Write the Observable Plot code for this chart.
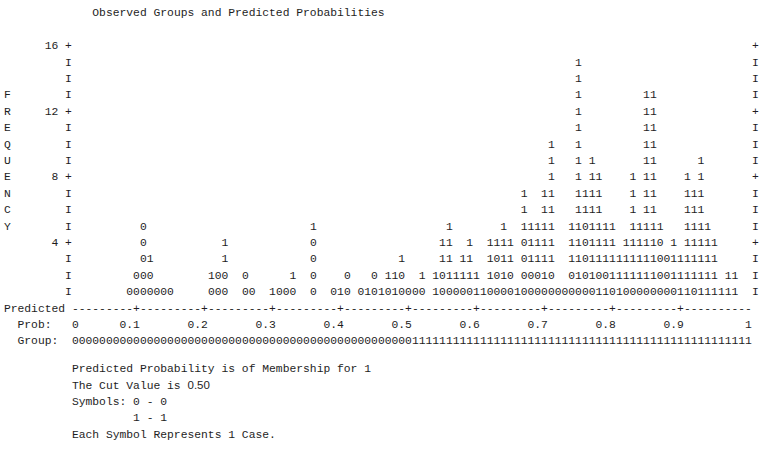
<!DOCTYPE html>
<html><head><meta charset="utf-8">
<script src="https://cdn.jsdelivr.net/npm/d3@7"></script>
<script src="https://cdn.jsdelivr.net/npm/@observablehq/plot@0.6"></script>
<style>html,body{margin:0;padding:0;background:#fff;} svg{display:block}</style>
</head><body><div id="chart"></div>
<script>
// ---- data ----
const titleText = "Observed Groups and Predicted Probabilities";
const axisWord = "FREQUENCY";
const freqTicks = [4, 8, 12, 16];
const maxRow = 16;
const probTicks = [0, 0.1, 0.2, 0.3, 0.4, 0.5, 0.6, 0.7, 0.8, 0.9, 1];
const cutValue = 0.5;
// predicted probability bins (in %), and the observed-group symbols stacked in each bin (bottom to top)
const probPct = [8,9,10,11,12,13,14,20,21,22,25,26,29,30,31,32,35,38,39,40,42,43,44,45,46,47,48,49,50,51,53,54,55,56,57,58,59,60,61,62,63,64,65,66,67,68,69,70,71,72,73,74,75,76,77,78,79,80,81,82,83,84,85,86,87,88,89,90,91,92,93,94,95,96,97];
const binStacks = ["0","00","00000","001","0","0","0","01","00","0011","00","0","1","0","0","01","00001","0","1","00","0","1","00","1","01","11","001","0","0","01","11","0011","01111","01","011","0111","11","1","0111","0001","01111","0011","1","0000111","00111","00111","0111111","0011111111","0","0","00111","011111111111111","0000011","011111111","10111111","10111","01111","111","0111","01111111","01111","0111111111111","0111111111111","00001","000","0111","111","11111111","0111111","111111111","11111","1111","1","11","11"];
const footLines = ["Predicted Probability is of Membership for 1", "The Cut Value is", "Symbols: 0 - 0", "         1 - 1", "Each Symbol Represents 1 Case."];

// ---- derived tables ----
const cells = [];
probPct.forEach((c, i) => [...binStacks[i]].forEach((s, k) => cells.push({p: c / 100, row: k + 1, sym: s})));
const rows = d3.range(1, maxRow + 1);
const border = rows.map(r => ({row: r, sym: freqTicks.includes(r) ? "+" : "I"}));
const cols = d3.range(0, 100);
const tickCols = probTicks.filter(p => p > 0 && p < 1).map(p => Math.round(p * 100) - 1);
const dashRow = cols.map(c => ({p: c / 100, sym: tickCols.includes(c) ? "+" : "-"}));
const groupRow = cols.map(c => ({p: c / 100, sym: c / 100 >= cutValue ? "1" : "0"}));
const letters = [...axisWord].map((ch, i) => ({ch, row: 13 - i}));
const feet = footLines.map((t, i) => ({t: t.trim(), indent: t.length - t.trimStart().length, row: -3.7 - i}));

const cw = 0.01;               // one character column in probability units
const left = c => (c - 0.5) * cw; // left edge of character column c
const mono = "Liberation Mono, Courier New, monospace";

const chart = Plot.plot({
  width: 766, height: 451,
  marginLeft: 0, marginRight: 0, marginTop: 0, marginBottom: 0,
  x: {domain: [0, 1], range: [74.8, 754.8], axis: null},
  y: {domain: [-8.756, 18.744], range: [451, 0], axis: null},
  style: {fontFamily: mono, fontSize: "11.33px", background: "#fff", color: "#1e1e1e"},
  marks: [
    Plot.text([titleText], {x: left(3), y: 18, text: d => d, textAnchor: "start"}),
    Plot.text(letters, {x: -10 * cw, y: "row", text: "ch"}),
    Plot.text(freqTicks, {x: left(-2), y: d => d, text: d => String(d), textAnchor: "end"}),
    Plot.text(border, {x: -1 * cw, y: "row", text: "sym"}),
    Plot.text(border, {x: 100 * cw, y: "row", text: "sym"}),
    Plot.text(cells, {x: "p", y: "row", text: "sym"}),
    Plot.text(["Predicted"], {x: left(-10), y: 0, text: d => d, textAnchor: "start"}),
    Plot.text(dashRow, {x: "p", y: 0, text: "sym"}),
    Plot.text(["Prob:"], {x: left(-8), y: -1, text: d => d, textAnchor: "start"}),
    Plot.text(probTicks, {x: p => Math.max(p - 0.5 * cw, 0.5 * cw), y: -1, text: p => (p === 0 || p === 1) ? String(p) : p.toFixed(1), textAnchor: "end"}),
    Plot.text(["Group:"], {x: left(-8), y: -2, text: d => d, textAnchor: "start"}),
    Plot.text(groupRow, {x: "p", y: -2, text: "sym"}),
    Plot.text(feet, {x: d => left(d.indent), y: "row", text: "t", textAnchor: "start"}),
    Plot.text([cutValue], {x: left(footLines[1].length + 1), y: feet[1].row, text: d => d.toFixed(2), textAnchor: "start", fontFamily: "Liberation Sans, Arial, sans-serif", fontSize: 11.5})
  ]
});
document.getElementById("chart").append(chart);
</script>
</body></html>
